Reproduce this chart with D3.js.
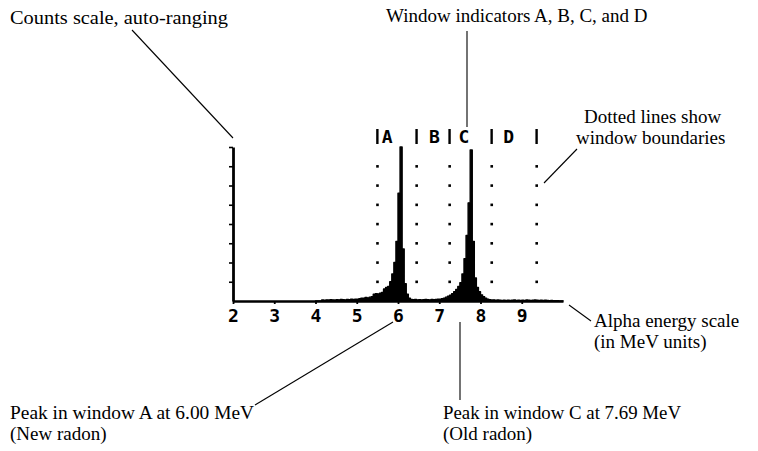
<!DOCTYPE html>
<html>
<head>
<meta charset="utf-8">
<script src="https://cdn.jsdelivr.net/npm/d3@7"></script>
<style>
  html, body { margin: 0; padding: 0; background: #fff; }
  svg { display: block; }
  .ann { font-family: "Liberation Serif", "Times New Roman", serif; font-size: 19px; fill: #000; }
  .pix { font-family: "DejaVu Sans Mono", monospace; font-size: 18px; font-weight: bold; fill: #000; }
</style>
</head>
<body>
<svg id="chart" width="758" height="451"></svg>
<script>
// ---------- data ----------
const binWidth = 0.05;               // MeV per channel
const firstBin = 4.00;               // energy of first channel in the list
const spectrumCounts = [
  // 4.00 - 4.95
  0.00, 0.00, 0.00, 0.05, 0.04, 0.06, 0.05, 0.07, 0.06, 0.05,
  0.07, 0.06, 0.08, 0.07, 0.06, 0.08, 0.07, 0.09, 0.08, 0.10,
  // 5.00 - 5.95
  0.10, 0.12, 0.15, 0.14, 0.18, 0.16, 0.20, 0.22, 0.35, 0.38,
  0.36, 0.40, 0.45, 0.62, 0.70, 0.75, 1.00, 1.40, 2.00, 3.10,
  // 6.00 - 6.95
  5.60, 8.00, 2.70, 0.90, 0.35, 0.15, 0.08, 0.07, 0.08, 0.06,
  0.07, 0.06, 0.07, 0.08, 0.07, 0.06, 0.08, 0.07, 0.08, 0.09,
  // 7.00 - 7.95
  0.10, 0.12, 0.15, 0.20, 0.25, 0.30, 0.38, 0.48, 0.60, 0.75,
  0.95, 1.40, 2.20, 3.40, 5.10, 7.85, 3.10, 1.20, 0.70, 0.48,
  // 8.00 - 8.95
  0.32, 0.22, 0.15, 0.10, 0.07, 0.05, 0.06, 0.04, 0.05, 0.04,
  0.03, 0.04, 0.03, 0.04, 0.03, 0.04, 0.05, 0.03, 0.04, 0.03,
  // 9.00 - 9.95
  0.04, 0.03, 0.05, 0.04, 0.03, 0.04, 0.05, 0.04, 0.03, 0.04,
  0.03, 0.04, 0.03, 0.02, 0.03, 0.02, 0.02, 0.02, 0.00, 0.00
];
const xTickValues = [2, 3, 4, 5, 6, 7, 8, 9];
const yTickValues = [1, 2, 3, 4, 5, 6, 7, 8];
const windowBoundaries = [5.50, 6.45, 7.25, 8.27, 9.36];
const windowLetters = ["A", "B", "C", "D"];
const windowLetterCenters = [5.74, 6.88, 7.60, 8.68];
const dotLevels = [1, 2, 3, 4, 5, 6, 7];
const energyDomain = [2, 10];
const countDomain = [0, 8];

// ---------- layout ----------
const svg = d3.select("#chart");
const x = d3.scaleLinear().domain(energyDomain).range([233, 563]);
const y = d3.scaleLinear().domain(countDomain).range([301, 147]);

const bins = spectrumCounts.map((c, i) => ({ e: firstBin + i * binWidth, c }));
bins.push({ e: firstBin + spectrumCounts.length * binWidth, c: 0 });

// spectrum (filled histogram)
const area = d3.area()
  .x(d => x(d.e))
  .y0(y(0))
  .y1(d => y(d.c))
  .curve(d3.curveStepAfter);
svg.append("path")
  .datum(bins)
  .attr("d", area)
  .attr("fill", "#000")
  .attr("stroke", "#000")
  .attr("stroke-width", 1.4)
  .attr("stroke-linejoin", "round");

// dotted window boundaries
const dots = [];
windowBoundaries.forEach(b => dotLevels.forEach(l => dots.push({ b, l })));
svg.append("g").selectAll("rect").data(dots).join("rect")
  .attr("x", d => x(d.b) - 1.2)
  .attr("y", d => y(d.l) - 1.2)
  .attr("width", 2.6)
  .attr("height", 2.6)
  .attr("fill", "#000");

// window indicator bars and letters
svg.append("g").selectAll("line").data(windowBoundaries).join("line")
  .attr("x1", d => x(d)).attr("x2", d => x(d))
  .attr("y1", 129).attr("y2", 144)
  .attr("stroke", "#000").attr("stroke-width", 2.4);
svg.append("g").selectAll("text").data(windowLetters).join("text")
  .attr("class", "pix")
  .attr("x", (d, i) => x(windowLetterCenters[i]))
  .attr("y", 143)
  .attr("text-anchor", "middle")
  .text(d => d);

// x axis
const xAxis = d3.axisBottom(x).tickValues(xTickValues).tickSize(3).tickSizeOuter(0).tickFormat(d3.format("d"));
const gx = svg.append("g").attr("transform", `translate(0,${y(0)})`).call(xAxis);
gx.select(".domain").attr("stroke", "#000").attr("stroke-width", 2.6);
gx.selectAll(".tick line").attr("stroke", "#000").attr("stroke-width", 1.8);
gx.selectAll(".tick text")
  .attr("class", "pix")
  .attr("font-family", null).attr("font-size", null)
  .attr("dy", null)
  .attr("y", 21);

// y axis
const yAxis = d3.axisLeft(y).tickValues(yTickValues).tickSize(4).tickSizeOuter(0).tickFormat("");
const gy = svg.append("g").attr("transform", `translate(${x(2)},0)`).call(yAxis);
gy.select(".domain").attr("stroke", "#000").attr("stroke-width", 2.8);
gy.selectAll(".tick line").attr("stroke", "#000").attr("stroke-width", 1.6);

// ---------- annotations ----------
function label(lines, xs, y0, widths) {
  lines.forEach((s, i) => {
    const t = svg.append("text").attr("class", "ann")
      .attr("x", xs[i]).attr("y", y0 + i * 21).text(s);
    if (widths && widths[i]) t.attr("textLength", widths[i]).attr("lengthAdjust", "spacingAndGlyphs");
  });
}
function leader(x1, y1, x2, y2) {
  svg.append("line").attr("x1", x1).attr("y1", y1).attr("x2", x2).attr("y2", y2)
    .attr("stroke", "#000").attr("stroke-width", 1.1);
}

label(["Counts scale, auto-ranging"], [10], 24, [218]);
leader(132, 30, 233, 138);

label(["Window indicators A, B, C, and D"], [386], 22);
leader(467, 31, 467, 127);

label(["Dotted lines show", "window boundaries"], [584, 576], 123);
leader(577, 149, 544, 183);

label(["Alpha energy scale", "(in MeV units)"], [594, 594], 327);
leader(569, 305, 591, 321);

label(["Peak in window A at 6.00 MeV", "(New radon)"], [10, 10], 419, [244]);
leader(393, 322, 255, 405);

label(["Peak in window C at 7.69 MeV", "(Old radon)"], [443, 443], 419, [238]);
leader(460, 322, 460, 400);
</script>
</body>
</html>
